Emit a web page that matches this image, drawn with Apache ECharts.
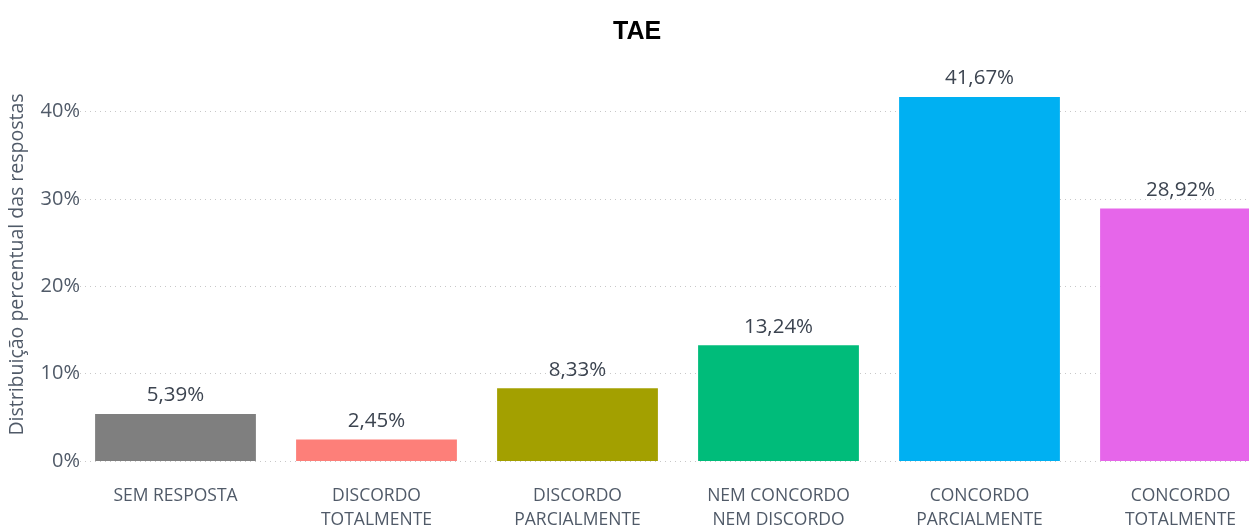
<!DOCTYPE html>
<html>
<head>
<meta charset="utf-8">
<script src="https://cdn.jsdelivr.net/npm/echarts@6/dist/echarts.min.js"></script>
<style>
  html, body { margin: 0; padding: 0; background: #ffffff; }
  #chart { width: 1249px; height: 525px; }
</style>
</head>
<body>
<div id="chart"></div>
<script>
// Response categories (Likert scale) and their share of answers, in percent
const categories = [
  'SEM RESPOSTA',
  'DISCORDO\nTOTALMENTE',
  'DISCORDO\nPARCIALMENTE',
  'NEM CONCORDO\nNEM DISCORDO',
  'CONCORDO\nPARCIALMENTE',
  'CONCORDO\nTOTALMENTE'
];
const values = [5.39, 2.45, 8.33, 13.24, 41.67, 28.92];
const barColors = ['#7f7f7f', '#fd7f79', '#a3a000', '#00bc7a', '#00b0f2', '#e666ea'];
const yTicks = [0, 10, 20, 30, 40];

const labelColor = '#505a68';
const fontFamily = '"Open Sans", "Noto Sans", sans-serif';

const chart = echarts.init(document.getElementById('chart'), null, { renderer: 'canvas' });

chart.setOption({
  animation: false,
  backgroundColor: '#ffffff',
  title: {
    text: 'TAE',
    left: 608,
    top: 15,
    textStyle: { fontFamily: '"Liberation Sans", Arial, sans-serif', fontWeight: 'bold', fontSize: 25, color: '#000000' }
  },
  // the plot runs past the right edge, the last bar is cut off there
  grid: { left: 75, top: 68, width: 1206, bottom: 64, containLabel: false, outerBoundsMode: 'none' },
  xAxis: {
    type: 'category',
    data: categories,
    axisLine: { show: false },
    axisTick: { show: false },
    axisLabel: {
      interval: 0,
      margin: 23,
      color: labelColor,
      fontFamily: fontFamily,
      fontSize: 17.5,
      lineHeight: 24
    }
  },
  yAxis: {
    type: 'value',
    min: 0,
    max: 45,
    interval: 10,
    name: 'Distribuição percentual das respostas',
    nameLocation: 'middle',
    nameRotate: 90,
    nameGap: 48,
    nameTextStyle: { color: labelColor, fontFamily: fontFamily, fontSize: 19.5 },
    axisLine: { show: false },
    axisTick: { show: false },
    axisLabel: {
      showMaxLabel: false,
      margin: -5,
      color: labelColor,
      fontFamily: fontFamily,
      fontSize: 20,
      formatter: v => (yTicks.indexOf(v) >= 0 ? v + '%' : '')
    },
    splitLine: {
      showMaxLine: false,
      lineStyle: { color: '#c8c8c8', type: [1, 4], width: 1 }
    }
  },
  series: [{
    type: 'bar',
    barCategoryGap: '20%',
    data: values.map((v, i) => ({ value: v, itemStyle: { color: barColors[i] } })),
    label: {
      show: true,
      position: 'top',
      distance: 8,
      color: '#3c4450',
      fontFamily: fontFamily,
      fontSize: 20.5,
      formatter: p => p.value.toFixed(2).replace('.', ',') + '%'
    }
  }]
});
</script>
</body>
</html>
